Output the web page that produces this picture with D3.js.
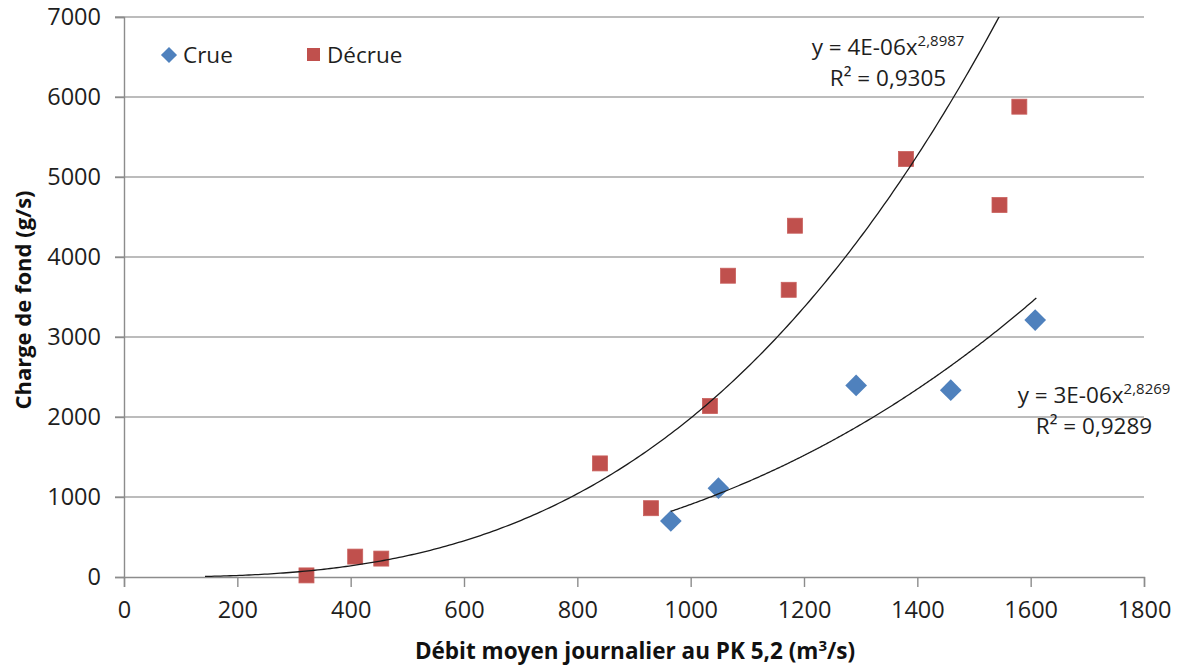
<!DOCTYPE html>
<html>
<head>
<meta charset="utf-8">
<script src="https://cdn.jsdelivr.net/npm/d3@7"></script>
<style>
  html, body { margin: 0; padding: 0; background: #fff; }
  svg { display: block; font-family: "Open Sans", "Noto Sans", sans-serif; }
</style>
</head>
<body>
<svg id="chart" width="1182" height="667"></svg>
<script>
// Débit (m3/s) vs charge de fond (g/s), crue and décrue samples
const crueDebit   = [965, 1049, 1292, 1459, 1608];
const crueCharge  = [700, 1110, 2395, 2335, 3212];
const decrueDebit  = [322, 408, 454, 840, 930, 1034, 1066, 1173, 1184, 1380, 1545, 1580];
const decrueCharge = [20, 255, 230, 1420, 860, 2137, 3766, 3590, 4391, 5225, 4650, 5879];

const xTicks = [0, 200, 400, 600, 800, 1000, 1200, 1400, 1600, 1800];
const yTicks = [0, 1000, 2000, 3000, 4000, 5000, 6000, 7000];

// Power-law trendlines y = a * x^b
const fitDecrue = { a: 4e-6, b: 2.8987, r2: "0,9305", a_txt: "4E-06", b_txt: "2,8987", from: 143, to: 1800 };
const fitCrue   = { a: 3e-6, b: 2.8269, r2: "0,9289", a_txt: "3E-06", b_txt: "2,8269", from: 965, to: 1610 };

const svg = d3.select("#chart");
const plotLeft = 124, plotRight = 1144, plotTop = 17, plotBottom = 577;

const x = d3.scaleLinear().domain([0, 1800]).range([plotLeft, plotRight]);
const y = d3.scaleLinear().domain([0, 7000]).range([plotBottom, plotTop]);

const gridColor = "#a6a6a6";
const axisColor = "#8c8c8c";
const textColor = "#1e1e1e";

// horizontal gridlines
svg.append("g")
  .selectAll("line")
  .data(yTicks.filter(d => d > 0))
  .join("line")
  .attr("x1", plotLeft - 9).attr("x2", plotRight)
  .attr("y1", d => y(d)).attr("y2", d => y(d))
  .attr("stroke", gridColor).attr("stroke-width", 1.4);

// y axis
const yAxis = svg.append("g")
  .attr("transform", `translate(${plotLeft},0)`)
  .call(d3.axisLeft(y).tickValues(yTicks).tickSize(9).tickPadding(14).tickFormat(d3.format("d")));
yAxis.select(".domain").attr("stroke", axisColor).attr("stroke-width", 1.4);
yAxis.selectAll(".tick line").attr("stroke", axisColor).attr("stroke-width", 1.4);
yAxis.selectAll(".tick text")
  .attr("font-size", 23.5).attr("fill", textColor)
  .attr("font-family", "'Open Sans', 'Noto Sans', sans-serif");

// x axis
const xAxis = svg.append("g")
  .attr("transform", `translate(0,${plotBottom})`)
  .call(d3.axisBottom(x).tickValues(xTicks).tickSize(10).tickPadding(14).tickFormat(d3.format("d")));
xAxis.select(".domain").attr("stroke", axisColor).attr("stroke-width", 1.4);
xAxis.selectAll(".tick line").attr("stroke", axisColor).attr("stroke-width", 1.4);
xAxis.selectAll(".tick text")
  .attr("font-size", 23.5).attr("fill", textColor)
  .attr("font-family", "'Open Sans', 'Noto Sans', sans-serif");

// clip for the curves
svg.append("defs").append("clipPath").attr("id", "plotClip")
  .append("rect").attr("x", plotLeft).attr("y", plotTop)
  .attr("width", plotRight - plotLeft).attr("height", plotBottom - plotTop);

function curvePoints(fit) {
  const n = 300;
  const pts = [];
  for (let i = 0; i <= n; i++) {
    const xv = fit.from + (fit.to - fit.from) * i / n;
    const yv = fit.a * Math.pow(xv, fit.b);
    pts.push([xv, yv]);
    if (yv > 7000) break;
  }
  return pts;
}
const line = d3.line().x(d => x(d[0])).y(d => y(d[1]));

// data series
const blue = "#4f81bd", red = "#c0504d";
const diamond = d3.symbol().type(d3.symbolDiamond2).size(300);

svg.append("g")
  .selectAll("rect")
  .data(decrueDebit.map((d, i) => [d, decrueCharge[i]]))
  .join("rect")
  .attr("x", d => x(d[0]) - 7.5).attr("y", d => y(d[1]) - 7.5)
  .attr("width", 15).attr("height", 15)
  .attr("fill", red).attr("stroke", "#c9605d").attr("stroke-width", 0.8);

svg.append("g")
  .selectAll("path")
  .data(crueDebit.map((d, i) => [d, crueCharge[i]]))
  .join("path")
  .attr("d", diamond)
  .attr("transform", d => `translate(${x(d[0])},${y(d[1])})`)
  .attr("fill", blue);

// trendlines
const curves = svg.append("g").attr("clip-path", "url(#plotClip)");
[fitDecrue, fitCrue].forEach(fit => {
  curves.append("path")
    .attr("d", line(curvePoints(fit)))
    .attr("fill", "none").attr("stroke", "#1a1a1a").attr("stroke-width", 1.3);
});

// trendline equations
function equation(fit, cx, y1, y2) {
  const t = svg.append("text")
    .attr("x", cx).attr("y", y1).attr("text-anchor", "middle")
    .attr("font-size", 22.5).attr("fill", textColor);
  t.append("tspan").text(`y = ${fit.a_txt}x`);
  t.append("tspan").attr("font-size", 15).attr("dy", -9).text(fit.b_txt);
  svg.append("text")
    .attr("x", cx).attr("y", y2).attr("text-anchor", "middle")
    .attr("font-size", 22.5).attr("fill", textColor)
    .text(`R² = ${fit.r2}`);
}
equation(fitDecrue, 888, 55, 86);
equation(fitCrue, 1094, 403, 434);

// legend
const legend = svg.append("g");
legend.append("path").attr("d", d3.symbol().type(d3.symbolDiamond2).size(165))
  .attr("transform", "translate(169,55)").attr("fill", blue);
legend.append("text").attr("x", 183).attr("y", 63).attr("font-size", 22.5).attr("fill", textColor).text("Crue");
legend.append("rect").attr("x", 307).attr("y", 48).attr("width", 13).attr("height", 13).attr("fill", red);
legend.append("text").attr("x", 327).attr("y", 63).attr("font-size", 22.5).attr("fill", textColor).text("Décrue");

// axis titles
const xt = svg.append("text")
  .attr("x", 635).attr("y", 659).attr("text-anchor", "middle")
  .attr("font-size", 22.5).attr("font-weight", "bold").attr("fill", "#111");
xt.append("tspan").text("Débit moyen journalier au PK 5,2 (m");
xt.append("tspan").attr("font-size", 15).attr("dy", -8).text("3");
xt.append("tspan").attr("dy", 8).text("/s)");

svg.append("text")
  .attr("transform", "translate(31,300) rotate(-90)")
  .attr("text-anchor", "middle")
  .attr("font-size", 22).attr("font-weight", "bold").attr("fill", "#111")
  .text("Charge de fond (g/s)");
</script>
</body>
</html>
